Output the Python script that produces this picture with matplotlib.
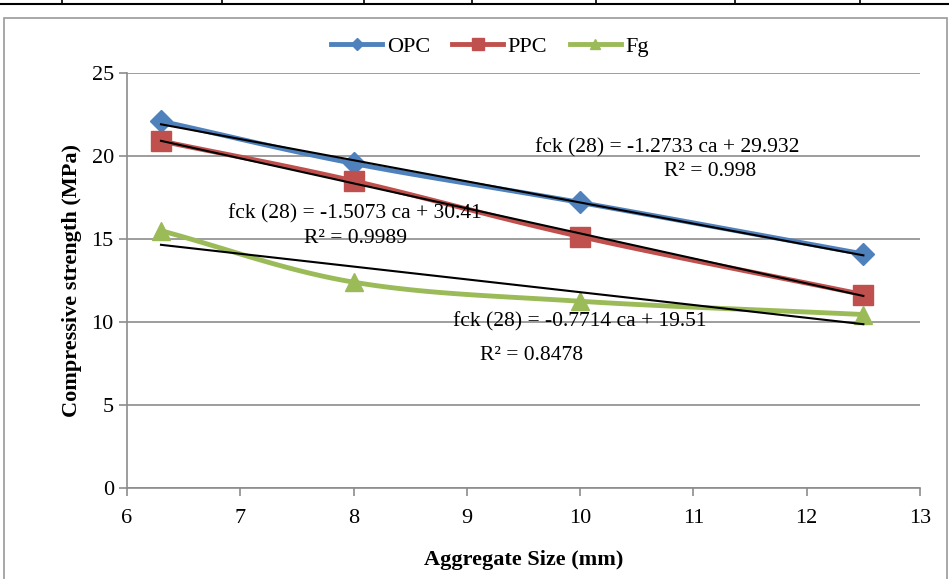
import matplotlib.pyplot as plt
import matplotlib.lines as mlines
import numpy as np

plt.rcParams['font.family'] = ['Liberation Serif', 'DejaVu Serif']

# data
agg_size = [6.3, 8, 10, 12.5]
opc = [22.1, 19.55, 17.2, 14.1]
ppc = [20.9, 18.5, 15.15, 11.65]
fg = [15.5, 12.4, 11.25, 10.45]

series_names = ['OPC', 'PPC', 'Fg']
# trendline coefficients and R^2 as printed on the chart
slopes = [-1.2733, -1.5073, -0.7714]
intercepts = ['29.932', '30.41', '19.51']
r2 = ['0.998', '0.9989', '0.8478']


def smooth(x, y, n=30):
    # Catmull-Rom smoothing, close to Excel's "smoothed line"
    x = np.asarray(x, float); y = np.asarray(y, float)
    px = np.concatenate([[2*x[0]-x[1]], x, [2*x[-1]-x[-2]]])
    py = np.concatenate([[2*y[0]-y[1]], y, [2*y[-1]-y[-2]]])
    xs, ys = [], []
    t = np.linspace(0, 1, n)[:, None]
    for i in range(1, len(px) - 2):
        p0, p1, p2, p3 = (np.array([px[j], py[j]]) for j in range(i-1, i+3))
        pts = 0.5 * ((2*p1) + (-p0 + p2)*t + (2*p0 - 5*p1 + 4*p2 - p3)*t**2
                     + (-p0 + 3*p1 - 3*p2 + p3)*t**3)
        xs.extend(pts[:, 0]); ys.extend(pts[:, 1])
    return xs, ys


fig = plt.figure(figsize=(9.49, 5.79), dpi=100)

# outer chart border and the table line fragment at the top
fig.add_artist(plt.Rectangle((4/949, -0.05), 943/949, 1.05 - 18/579, transform=fig.transFigure,
                             fill=False, edgecolor='#9a9a9a', lw=1.2))
fig.add_artist(mlines.Line2D([0, 1], [1 - 4/579, 1 - 4/579], transform=fig.transFigure, color='black', lw=1.5))
for px in [62, 222, 364, 472, 596, 735, 860]:
    fig.add_artist(mlines.Line2D([px/949, px/949], [1 - 4/579, 1], transform=fig.transFigure, color='black', lw=1.2))

ax = fig.add_axes([127/949, 91/579, 793/949, 415/579])

colors = ['#4F81BD', '#C0504D', '#9BBB59']
markers = ['D', 's', '^']
msizes = [11, 14, 13]
handles = []
for vals, name, c, m, ms in zip([opc, ppc, fg], series_names, colors, markers, msizes):
    sx, sy = smooth(agg_size, vals)
    ax.plot(sx, sy, color=c, lw=3.5, zorder=3, solid_capstyle='round')
    ax.plot(agg_size, vals, linestyle='none', marker=m, color=c, markersize=ms, zorder=4)
    handles.append(mlines.Line2D([], [], color=c, lw=3.5, marker=m, markersize=ms*0.6, label=name))

tx = np.array([agg_size[0], agg_size[-1]])
for s, b in zip(slopes, intercepts):
    ax.plot(tx, s*tx + float(b), color='black', lw=1.5, zorder=5)

fs = 15.5
eq_pos = [(10.77, 20.5), (8.01, 16.5), (10.0, 10.0)]
r2_pos = [(11.15, 19.05), (8.02, 15.05), (9.57, 8.0)]
for s, b, r, ep, rp in zip(slopes, intercepts, r2, eq_pos, r2_pos):
    ax.text(ep[0], ep[1], 'fck (28) = %.4f ca + %s' % (s, b), ha='center', va='center', fontsize=fs, zorder=6)
    ax.text(rp[0], rp[1], 'R² = ' + r, ha='center', va='center', fontsize=fs, zorder=6)

ax.set_xlim(6, 13)
ax.set_ylim(0, 25)
ax.set_xticks(range(6, 14))
ax.set_yticks(range(0, 26, 5))
ax.yaxis.grid(True, color='#8c8c8c', lw=1.2)
ax.set_axisbelow(True)
for sp in ['top', 'right']:
    ax.spines[sp].set_visible(False)
for sp in ['left', 'bottom']:
    ax.spines[sp].set_color('#8c8c8c')
    ax.spines[sp].set_linewidth(1.2)
ax.tick_params(axis='both', colors='#8c8c8c', labelcolor='black', labelsize=16, length=6, width=1.2)
ax.tick_params(axis='x', pad=9)

ax.set_xlabel('Aggregate Size (mm)', fontsize=16, fontweight='bold', labelpad=16)
ax.set_ylabel('Compressive strength (MPa)', fontsize=16, fontweight='bold', labelpad=7)

fig.legend(handles=handles, loc='center', bbox_to_anchor=(490/949, 1 - 47/579), ncol=3, frameon=False,
           fontsize=16, handlelength=2.3, columnspacing=1.0, handletextpad=0.2)

fig.savefig('out.png', dpi=100)
